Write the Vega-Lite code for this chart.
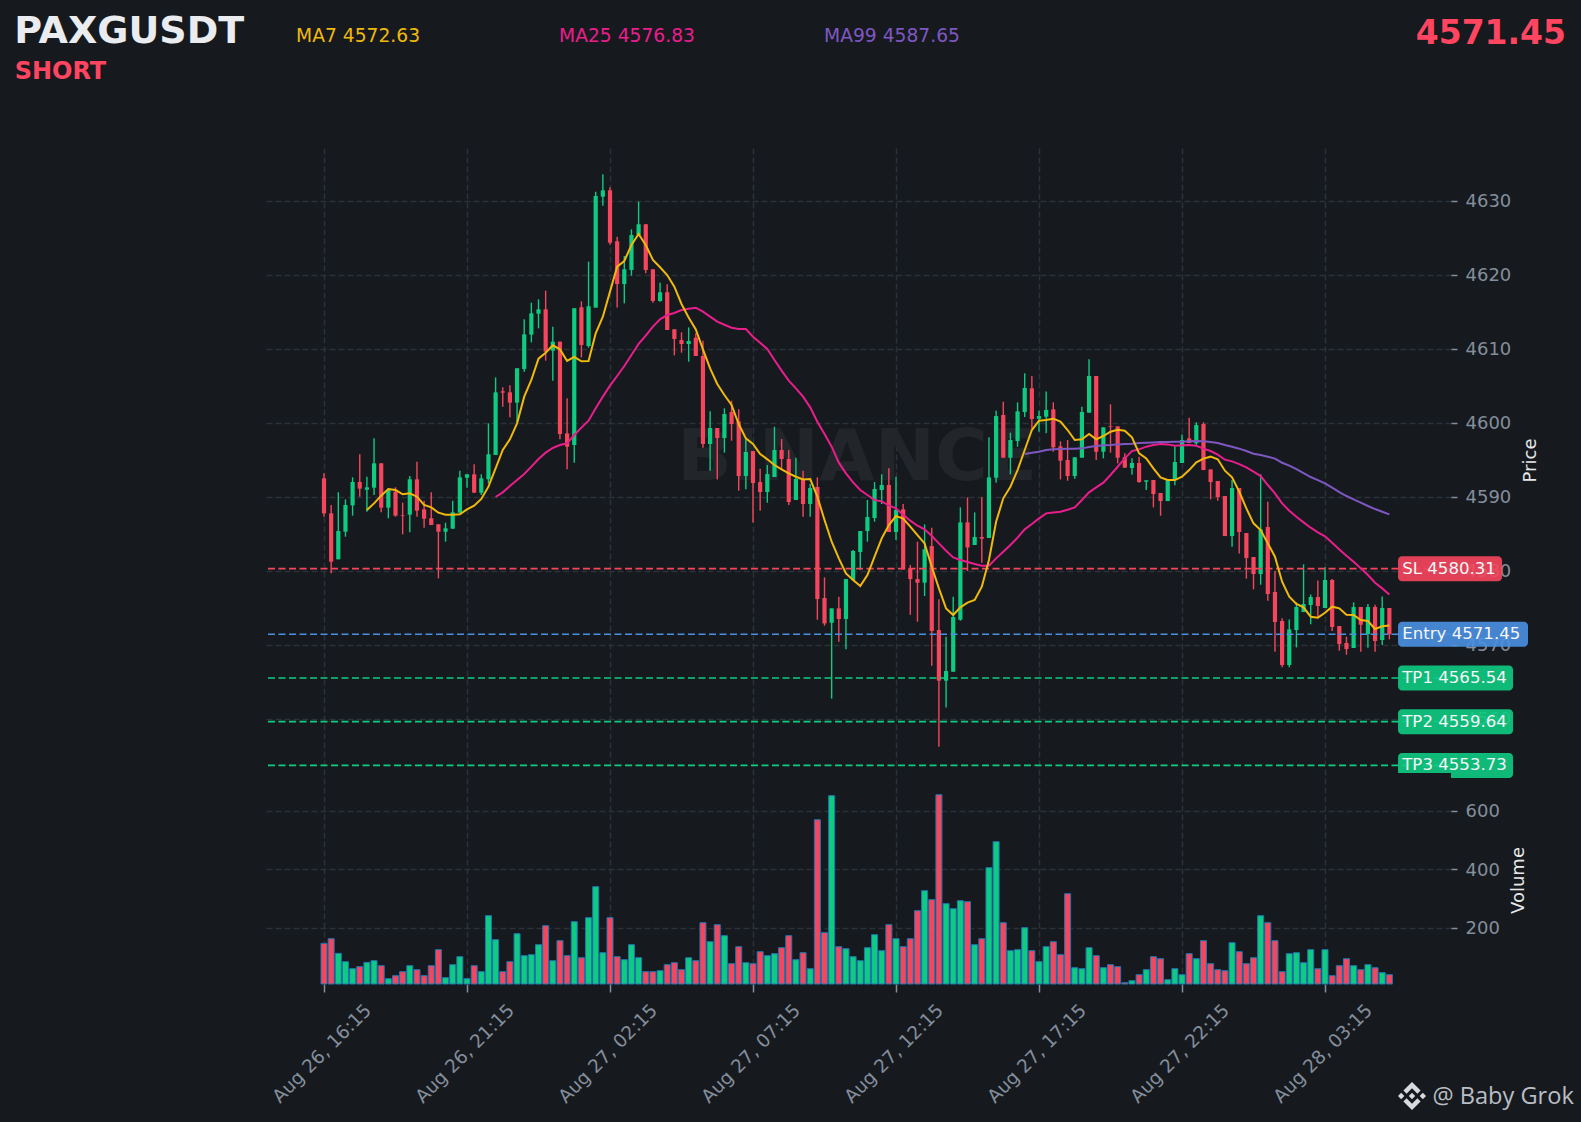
{
  "$schema": "https://vega.github.io/schema/vega-lite/v6.json",
  "autosize": {"type": "none"},
  "padding": {"left": 266, "top": 148, "right": 130, "bottom": 138},
  "width": 1185,
  "height": 836,
  "background": "#161a1e",
  "config": {"view": {"stroke": null}, "font": "DejaVu Sans"},
  "data": {"name": "candles"},
  "datasets": {
    "levels": [
      {"kind": "SL", "price": 4580.31, "label": "SL 4580.31"},
      {"kind": "Entry", "price": 4571.45, "label": "Entry 4571.45"},
      {"kind": "TP", "price": 4565.54, "label": "TP1 4565.54"},
      {"kind": "TP", "price": 4559.64, "label": "TP2 4559.64"},
      {"kind": "TP", "price": 4553.73, "label": "TP3 4553.73"}
    ],
    "candles": [
      {"t":"2026-08-26T16:15","o":4592.52,"c":4587.79,"h":4593.20,"l":4587.34,"v":146.4},
      {"t":"2026-08-26T16:30","o":4587.79,"c":4581.26,"h":4588.92,"l":4579.68,"v":162.4},
      {"t":"2026-08-26T16:45","o":4581.58,"c":4585.40,"h":4590.63,"l":4581.58,"v":112.3},
      {"t":"2026-08-26T17:00","o":4585.31,"c":4588.92,"h":4589.68,"l":4584.64,"v":83.8},
      {"t":"2026-08-26T17:15","o":4588.87,"c":4592.03,"h":4592.66,"l":4587.48,"v":59.8},
      {"t":"2026-08-26T17:30","o":4592.03,"c":4591.13,"h":4595.77,"l":4590.04,"v":66.7},
      {"t":"2026-08-26T17:45","o":4590.99,"c":4591.31,"h":4592.75,"l":4588.02,"v":81.5,"ma7":4588.24},
      {"t":"2026-08-26T18:00","o":4591.26,"c":4594.55,"h":4597.93,"l":4590.27,"v":87.2,"ma7":4589.14},
      {"t":"2026-08-26T18:15","o":4594.55,"c":4588.56,"h":4594.55,"l":4587.93,"v":70.1,"ma7":4590.18},
      {"t":"2026-08-26T18:30","o":4588.56,"c":4590.95,"h":4591.17,"l":4587.12,"v":25.6,"ma7":4591.08},
      {"t":"2026-08-26T18:45","o":4590.72,"c":4587.48,"h":4591.31,"l":4587.34,"v":35.9,"ma7":4590.95},
      {"t":"2026-08-26T19:00","o":4587.57,"c":4587.48,"h":4589.23,"l":4584.95,"v":49.6,"ma7":4590.36},
      {"t":"2026-08-26T19:15","o":4587.61,"c":4592.39,"h":4592.84,"l":4585.22,"v":70.1,"ma7":4590.49},
      {"t":"2026-08-26T19:30","o":4592.39,"c":4588.15,"h":4594.77,"l":4587.34,"v":56.4,"ma7":4590.04},
      {"t":"2026-08-26T19:45","o":4588.33,"c":4587.07,"h":4589.50,"l":4585.85,"v":35.9,"ma7":4588.92},
      {"t":"2026-08-26T20:00","o":4587.12,"c":4586.22,"h":4590.63,"l":4586.22,"v":70.1,"ma7":4588.60},
      {"t":"2026-08-26T20:15","o":4586.31,"c":4585.31,"h":4586.31,"l":4579.01,"v":124.8,"ma7":4587.88},
      {"t":"2026-08-26T20:30","o":4585.31,"c":4585.77,"h":4586.53,"l":4583.96,"v":29.1,"ma7":4587.61},
      {"t":"2026-08-26T20:45","o":4585.72,"c":4587.93,"h":4589.50,"l":4585.72,"v":73.5,"ma7":4587.61},
      {"t":"2026-08-26T21:00","o":4587.88,"c":4592.66,"h":4593.56,"l":4587.79,"v":100.9,"ma7":4587.66},
      {"t":"2026-08-26T21:15","o":4592.61,"c":4593.06,"h":4593.06,"l":4591.26,"v":25.6,"ma7":4588.33},
      {"t":"2026-08-26T21:30","o":4593.06,"c":4590.58,"h":4594.41,"l":4590.58,"v":70.1,"ma7":4588.83},
      {"t":"2026-08-26T21:45","o":4590.58,"c":4592.52,"h":4593.06,"l":4590.27,"v":49.6,"ma7":4589.73},
      {"t":"2026-08-26T22:00","o":4592.39,"c":4595.77,"h":4599.95,"l":4591.85,"v":241.0,"ma7":4591.40},
      {"t":"2026-08-26T22:15","o":4595.68,"c":4604.14,"h":4606.17,"l":4595.68,"v":159.0,"ma7":4593.87,"ma25":4590.00},
      {"t":"2026-08-26T22:30","o":4604.28,"c":4604.10,"h":4604.82,"l":4602.21,"v":49.6,"ma7":4596.35,"ma25":4590.63},
      {"t":"2026-08-26T22:45","o":4604.14,"c":4602.75,"h":4605.09,"l":4600.77,"v":83.8,"ma7":4597.79,"ma25":4591.49},
      {"t":"2026-08-26T23:00","o":4602.75,"c":4607.39,"h":4607.39,"l":4599.95,"v":179.5,"ma7":4599.95,"ma25":4592.30},
      {"t":"2026-08-26T23:15","o":4607.30,"c":4611.98,"h":4614.01,"l":4606.94,"v":104.3,"ma7":4603.56,"ma25":4593.11},
      {"t":"2026-08-26T23:30","o":4611.94,"c":4614.82,"h":4616.26,"l":4610.90,"v":107.7,"ma7":4605.81,"ma25":4594.10},
      {"t":"2026-08-26T23:45","o":4614.77,"c":4615.36,"h":4616.71,"l":4612.79,"v":141.9,"ma7":4608.69,"ma25":4595.13},
      {"t":"2026-08-27T00:00","o":4615.36,"c":4609.64,"h":4617.88,"l":4608.42,"v":206.8,"ma7":4609.50,"ma25":4595.99},
      {"t":"2026-08-27T00:15","o":4609.77,"c":4610.99,"h":4613.02,"l":4605.72,"v":87.2,"ma7":4610.49,"ma25":4596.62},
      {"t":"2026-08-27T00:30","o":4610.99,"c":4598.51,"h":4610.99,"l":4597.79,"v":155.6,"ma7":4609.95,"ma25":4597.03},
      {"t":"2026-08-27T00:45","o":4598.60,"c":4596.80,"h":4603.33,"l":4593.74,"v":104.3,"ma7":4608.38,"ma25":4597.25},
      {"t":"2026-08-27T01:00","o":4597.03,"c":4615.49,"h":4615.49,"l":4594.64,"v":220.5,"ma7":4608.92,"ma25":4598.38},
      {"t":"2026-08-27T01:15","o":4615.63,"c":4610.54,"h":4616.44,"l":4608.87,"v":97.4,"ma7":4608.33,"ma25":4599.37},
      {"t":"2026-08-27T01:30","o":4610.40,"c":4615.77,"h":4621.80,"l":4610.18,"v":234.2,"ma7":4608.38,"ma25":4600.31},
      {"t":"2026-08-27T01:45","o":4615.59,"c":4630.68,"h":4631.26,"l":4615.59,"v":340.2,"ma7":4612.12,"ma25":4601.98},
      {"t":"2026-08-27T02:00","o":4630.58,"c":4631.44,"h":4633.60,"l":4629.37,"v":114.5,"ma7":4614.37,"ma25":4603.56},
      {"t":"2026-08-27T02:15","o":4631.44,"c":4624.37,"h":4631.85,"l":4624.10,"v":234.2,"ma7":4617.75,"ma25":4605.04},
      {"t":"2026-08-27T02:30","o":4624.55,"c":4618.78,"h":4625.18,"l":4615.59,"v":100.9,"ma7":4621.13,"ma25":4606.35},
      {"t":"2026-08-27T02:45","o":4618.78,"c":4620.77,"h":4622.57,"l":4616.17,"v":90.6,"ma7":4621.89,"ma25":4607.70},
      {"t":"2026-08-27T03:00","o":4620.68,"c":4625.40,"h":4626.17,"l":4619.91,"v":141.9,"ma7":4624.05,"ma25":4609.19},
      {"t":"2026-08-27T03:15","o":4625.40,"c":4626.85,"h":4629.91,"l":4625.40,"v":97.4,"ma7":4625.54,"ma25":4610.68},
      {"t":"2026-08-27T03:30","o":4626.85,"c":4620.68,"h":4626.85,"l":4620.22,"v":49.6,"ma7":4624.05,"ma25":4611.80},
      {"t":"2026-08-27T03:45","o":4620.77,"c":4616.49,"h":4620.77,"l":4616.26,"v":49.6,"ma7":4622.03,"ma25":4613.02},
      {"t":"2026-08-27T04:00","o":4616.49,"c":4617.66,"h":4618.96,"l":4616.40,"v":53.0,"ma7":4621.04,"ma25":4614.01},
      {"t":"2026-08-27T04:15","o":4617.66,"c":4612.57,"h":4618.74,"l":4612.57,"v":73.5,"ma7":4620.00,"ma25":4614.59},
      {"t":"2026-08-27T04:30","o":4612.66,"c":4611.35,"h":4612.66,"l":4609.14,"v":80.3,"ma7":4618.42,"ma25":4614.86},
      {"t":"2026-08-27T04:45","o":4611.21,"c":4610.67,"h":4612.25,"l":4609.50,"v":56.4,"ma7":4616.08,"ma25":4615.27},
      {"t":"2026-08-27T05:00","o":4610.67,"c":4611.08,"h":4612.92,"l":4608.28,"v":97.4,"ma7":4614.27,"ma25":4615.45},
      {"t":"2026-08-27T05:15","o":4611.53,"c":4609.05,"h":4612.11,"l":4609.05,"v":87.2,"ma7":4612.65,"ma25":4615.58},
      {"t":"2026-08-27T05:30","o":4609.05,"c":4597.16,"h":4611.12,"l":4596.66,"v":217.1,"ma7":4609.95,"ma25":4615.04},
      {"t":"2026-08-27T05:45","o":4597.16,"c":4599.32,"h":4601.57,"l":4593.55,"v":152.1,"ma7":4607.38,"ma25":4614.37},
      {"t":"2026-08-27T06:00","o":4599.32,"c":4597.97,"h":4599.32,"l":4592.38,"v":210.3,"ma7":4605.27,"ma25":4613.69},
      {"t":"2026-08-27T06:15","o":4597.97,"c":4601.21,"h":4601.98,"l":4595.99,"v":172.7,"ma7":4603.78,"ma25":4613.28},
      {"t":"2026-08-27T06:30","o":4601.48,"c":4599.86,"h":4603.01,"l":4597.61,"v":76.9,"ma7":4602.43,"ma25":4612.88},
      {"t":"2026-08-27T06:45","o":4600.22,"c":4592.83,"h":4601.84,"l":4590.85,"v":135.0,"ma7":4599.86,"ma25":4612.70},
      {"t":"2026-08-27T07:00","o":4592.83,"c":4596.08,"h":4597.92,"l":4591.03,"v":80.3,"ma7":4597.92,"ma25":4612.70},
      {"t":"2026-08-27T07:15","o":4596.21,"c":4591.89,"h":4596.21,"l":4586.57,"v":76.9,"ma7":4597.16,"ma25":4611.66},
      {"t":"2026-08-27T07:30","o":4592.02,"c":4590.67,"h":4593.82,"l":4588.15,"v":117.9,"ma7":4595.81,"ma25":4610.85},
      {"t":"2026-08-27T07:45","o":4590.67,"c":4593.10,"h":4594.32,"l":4589.23,"v":104.3,"ma7":4595.09,"ma25":4610.00},
      {"t":"2026-08-27T08:00","o":4592.70,"c":4596.35,"h":4599.50,"l":4592.70,"v":111.1,"ma7":4594.32,"ma25":4608.51},
      {"t":"2026-08-27T08:15","o":4596.35,"c":4595.13,"h":4597.83,"l":4593.78,"v":131.6,"ma7":4593.73,"ma25":4607.07},
      {"t":"2026-08-27T08:30","o":4595.13,"c":4589.32,"h":4596.35,"l":4588.91,"v":172.7,"ma7":4593.19,"ma25":4605.72},
      {"t":"2026-08-27T08:45","o":4589.59,"c":4592.43,"h":4595.31,"l":4589.59,"v":90.6,"ma7":4592.74,"ma25":4604.68},
      {"t":"2026-08-27T09:00","o":4592.29,"c":4589.05,"h":4593.55,"l":4587.34,"v":114.5,"ma7":4592.38,"ma25":4603.55},
      {"t":"2026-08-27T09:15","o":4589.05,"c":4591.21,"h":4591.75,"l":4587.34,"v":59.8,"ma7":4592.43,"ma25":4602.11},
      {"t":"2026-08-27T09:30","o":4591.35,"c":4576.21,"h":4592.65,"l":4573.42,"v":569.2,"ma7":4590.04,"ma25":4600.18},
      {"t":"2026-08-27T09:45","o":4576.35,"c":4572.92,"h":4579.14,"l":4572.61,"v":182.9,"ma7":4586.89,"ma25":4598.51},
      {"t":"2026-08-27T10:00","o":4573.01,"c":4574.95,"h":4574.95,"l":4562.74,"v":651.3,"ma7":4583.96,"ma25":4596.80},
      {"t":"2026-08-27T10:15","o":4574.95,"c":4573.51,"h":4576.53,"l":4570.45,"v":135.0,"ma7":4581.71,"ma25":4594.64},
      {"t":"2026-08-27T10:30","o":4573.51,"c":4578.91,"h":4578.91,"l":4569.41,"v":128.2,"ma7":4579.68,"ma25":4593.19},
      {"t":"2026-08-27T10:45","o":4578.78,"c":4582.70,"h":4582.83,"l":4578.78,"v":100.9,"ma7":4578.78,"ma25":4591.98},
      {"t":"2026-08-27T11:00","o":4582.56,"c":4585.40,"h":4585.40,"l":4580.13,"v":87.2,"ma7":4577.97,"ma25":4590.94},
      {"t":"2026-08-27T11:15","o":4585.40,"c":4587.29,"h":4589.59,"l":4583.96,"v":131.6,"ma7":4579.45,"ma25":4590.27},
      {"t":"2026-08-27T11:30","o":4587.16,"c":4591.08,"h":4592.02,"l":4586.66,"v":176.1,"ma7":4581.93,"ma25":4589.59},
      {"t":"2026-08-27T11:45","o":4590.94,"c":4591.62,"h":4593.06,"l":4589.05,"v":121.4,"ma7":4584.41,"ma25":4589.41},
      {"t":"2026-08-27T12:00","o":4591.62,"c":4585.27,"h":4593.87,"l":4585.27,"v":210.3,"ma7":4586.21,"ma25":4588.87},
      {"t":"2026-08-27T12:15","o":4585.27,"c":4588.24,"h":4592.74,"l":4584.18,"v":162.4,"ma7":4587.43,"ma25":4588.46},
      {"t":"2026-08-27T12:30","o":4588.33,"c":4580.22,"h":4589.05,"l":4580.22,"v":135.0,"ma7":4587.07,"ma25":4587.61},
      {"t":"2026-08-27T12:45","o":4580.31,"c":4578.91,"h":4580.81,"l":4574.09,"v":162.4,"ma7":4585.99,"ma25":4586.80},
      {"t":"2026-08-27T13:00","o":4578.91,"c":4578.42,"h":4583.96,"l":4573.15,"v":258.1,"ma7":4584.86,"ma25":4586.12},
      {"t":"2026-08-27T13:15","o":4578.42,"c":4582.92,"h":4586.30,"l":4576.62,"v":326.5,"ma7":4583.73,"ma25":4585.63},
      {"t":"2026-08-27T13:30","o":4583.37,"c":4571.89,"h":4585.85,"l":4567.20,"v":295.7,"ma7":4580.58,"ma25":4584.73},
      {"t":"2026-08-27T13:45","o":4572.02,"c":4565.18,"h":4576.17,"l":4556.26,"v":654.7,"ma7":4577.65,"ma25":4583.73},
      {"t":"2026-08-27T14:00","o":4565.18,"c":4566.48,"h":4571.12,"l":4561.57,"v":282.1,"ma7":4574.95,"ma25":4582.74},
      {"t":"2026-08-27T14:15","o":4566.39,"c":4573.78,"h":4576.53,"l":4566.39,"v":265.0,"ma7":4574.05,"ma25":4581.84},
      {"t":"2026-08-27T14:30","o":4573.42,"c":4586.57,"h":4588.60,"l":4573.28,"v":292.3,"ma7":4575.09,"ma25":4581.48},
      {"t":"2026-08-27T14:45","o":4586.57,"c":4583.19,"h":4589.95,"l":4580.00,"v":288.9,"ma7":4575.72,"ma25":4581.21},
      {"t":"2026-08-27T15:00","o":4583.51,"c":4584.59,"h":4587.92,"l":4583.51,"v":141.9,"ma7":4576.08,"ma25":4580.94},
      {"t":"2026-08-27T15:15","o":4584.59,"c":4584.37,"h":4589.95,"l":4581.12,"v":162.4,"ma7":4577.88,"ma25":4580.72},
      {"t":"2026-08-27T15:30","o":4584.46,"c":4592.65,"h":4598.06,"l":4584.46,"v":405.1,"ma7":4581.48,"ma25":4580.72},
      {"t":"2026-08-27T15:45","o":4592.61,"c":4600.94,"h":4601.66,"l":4591.93,"v":494.0,"ma7":4586.66,"ma25":4581.71},
      {"t":"2026-08-27T16:00","o":4601.08,"c":4595.31,"h":4602.88,"l":4595.31,"v":217.1,"ma7":4589.82,"ma25":4582.61},
      {"t":"2026-08-27T16:15","o":4595.31,"c":4597.70,"h":4598.69,"l":4593.06,"v":121.4,"ma7":4591.39,"ma25":4583.51},
      {"t":"2026-08-27T16:30","o":4597.56,"c":4601.57,"h":4602.79,"l":4596.80,"v":124.8,"ma7":4593.64,"ma25":4584.50},
      {"t":"2026-08-27T16:45","o":4601.48,"c":4604.73,"h":4606.71,"l":4600.81,"v":200.0,"ma7":4596.35,"ma25":4585.63,"ma99":4595.81},
      {"t":"2026-08-27T17:00","o":4604.68,"c":4600.54,"h":4606.35,"l":4599.27,"v":121.4,"ma7":4599.05,"ma25":4586.35,"ma99":4595.99},
      {"t":"2026-08-27T17:15","o":4600.58,"c":4600.94,"h":4601.66,"l":4598.82,"v":83.8,"ma7":4600.31,"ma25":4587.11,"ma99":4596.12},
      {"t":"2026-08-27T17:30","o":4600.85,"c":4601.75,"h":4604.27,"l":4598.60,"v":135.0,"ma7":4600.40,"ma25":4587.79,"ma99":4596.35},
      {"t":"2026-08-27T17:45","o":4601.84,"c":4596.71,"h":4602.79,"l":4596.12,"v":152.1,"ma7":4600.58,"ma25":4587.92,"ma99":4596.44},
      {"t":"2026-08-27T18:00","o":4596.84,"c":4594.91,"h":4597.52,"l":4592.38,"v":107.7,"ma7":4600.18,"ma25":4588.01,"ma99":4596.48},
      {"t":"2026-08-27T18:15","o":4595.00,"c":4592.83,"h":4597.70,"l":4592.20,"v":316.2,"ma7":4599.05,"ma25":4588.28,"ma99":4596.53},
      {"t":"2026-08-27T18:30","o":4592.83,"c":4595.36,"h":4595.36,"l":4592.47,"v":63.2,"ma7":4597.70,"ma25":4588.60,"ma99":4596.53},
      {"t":"2026-08-27T18:45","o":4595.31,"c":4601.48,"h":4602.20,"l":4595.31,"v":59.8,"ma7":4597.79,"ma25":4589.59,"ma99":4596.57},
      {"t":"2026-08-27T19:00","o":4601.39,"c":4606.35,"h":4608.60,"l":4601.39,"v":131.6,"ma7":4598.51,"ma25":4590.63,"ma99":4596.75},
      {"t":"2026-08-27T19:15","o":4606.35,"c":4596.12,"h":4606.35,"l":4595.00,"v":104.3,"ma7":4597.79,"ma25":4591.30,"ma99":4596.89},
      {"t":"2026-08-27T19:30","o":4596.12,"c":4599.41,"h":4599.41,"l":4595.22,"v":63.2,"ma7":4598.24,"ma25":4591.93,"ma99":4596.98},
      {"t":"2026-08-27T19:45","o":4599.54,"c":4599.45,"h":4602.52,"l":4595.99,"v":73.5,"ma7":4598.82,"ma25":4592.97,"ma99":4597.02},
      {"t":"2026-08-27T20:00","o":4599.54,"c":4595.31,"h":4599.54,"l":4594.54,"v":66.7,"ma7":4599.09,"ma25":4594.09,"ma99":4597.11},
      {"t":"2026-08-27T20:15","o":4595.40,"c":4593.96,"h":4595.90,"l":4593.96,"v":12.0,"ma7":4598.96,"ma25":4595.22,"ma99":4597.16},
      {"t":"2026-08-27T20:30","o":4593.91,"c":4594.59,"h":4595.22,"l":4593.01,"v":18.8,"ma7":4598.06,"ma25":4596.21,"ma99":4597.20},
      {"t":"2026-08-27T20:45","o":4594.59,"c":4592.02,"h":4595.45,"l":4591.93,"v":39.3,"ma7":4595.90,"ma25":4596.44,"ma99":4597.29},
      {"t":"2026-08-27T21:00","o":4592.07,"c":4592.25,"h":4592.25,"l":4590.94,"v":56.4,"ma7":4595.22,"ma25":4596.80,"ma99":4597.34},
      {"t":"2026-08-27T21:15","o":4592.29,"c":4590.40,"h":4592.29,"l":4588.60,"v":100.9,"ma7":4593.87,"ma25":4597.02,"ma99":4597.38},
      {"t":"2026-08-27T21:30","o":4590.54,"c":4589.45,"h":4590.54,"l":4587.47,"v":94.0,"ma7":4592.65,"ma25":4597.16,"ma99":4597.43},
      {"t":"2026-08-27T21:45","o":4589.45,"c":4592.29,"h":4592.29,"l":4589.45,"v":22.2,"ma7":4592.29,"ma25":4597.11,"ma99":4597.43},
      {"t":"2026-08-27T22:00","o":4592.29,"c":4594.72,"h":4596.80,"l":4591.57,"v":59.8,"ma7":4592.29,"ma25":4596.93,"ma99":4597.47},
      {"t":"2026-08-27T22:15","o":4594.59,"c":4597.70,"h":4598.46,"l":4594.59,"v":39.3,"ma7":4592.74,"ma25":4596.98,"ma99":4597.47},
      {"t":"2026-08-27T22:30","o":4597.92,"c":4597.29,"h":4600.72,"l":4597.29,"v":111.1,"ma7":4593.64,"ma25":4597.02,"ma99":4597.52},
      {"t":"2026-08-27T22:45","o":4597.25,"c":4599.72,"h":4600.09,"l":4596.93,"v":94.0,"ma7":4594.68,"ma25":4596.93,"ma99":4597.56},
      {"t":"2026-08-27T23:00","o":4599.86,"c":4593.64,"h":4600.09,"l":4593.64,"v":155.6,"ma7":4595.18,"ma25":4596.53,"ma99":4597.52},
      {"t":"2026-08-27T23:15","o":4593.73,"c":4592.02,"h":4593.73,"l":4589.68,"v":76.9,"ma7":4595.45,"ma25":4596.21,"ma99":4597.43},
      {"t":"2026-08-27T23:30","o":4592.16,"c":4589.99,"h":4592.16,"l":4589.50,"v":56.4,"ma7":4595.09,"ma25":4595.72,"ma99":4597.29},
      {"t":"2026-08-27T23:45","o":4590.13,"c":4584.72,"h":4590.13,"l":4584.72,"v":53.0,"ma7":4593.55,"ma25":4595.04,"ma99":4597.02},
      {"t":"2026-08-28T00:00","o":4584.72,"c":4591.21,"h":4592.29,"l":4583.28,"v":148.7,"ma7":4592.65,"ma25":4594.81,"ma99":4596.80},
      {"t":"2026-08-28T00:15","o":4591.21,"c":4585.27,"h":4591.21,"l":4582.38,"v":117.9,"ma7":4590.72,"ma25":4594.45,"ma99":4596.53},
      {"t":"2026-08-28T00:30","o":4585.13,"c":4581.75,"h":4585.13,"l":4578.96,"v":76.9,"ma7":4588.46,"ma25":4594.00,"ma99":4596.21},
      {"t":"2026-08-28T00:45","o":4581.89,"c":4579.59,"h":4581.89,"l":4577.52,"v":97.4,"ma7":4586.44,"ma25":4593.42,"ma99":4595.85},
      {"t":"2026-08-28T01:00","o":4579.59,"c":4585.63,"h":4593.06,"l":4578.15,"v":241.0,"ma7":4585.54,"ma25":4592.83,"ma99":4595.67},
      {"t":"2026-08-28T01:15","o":4585.94,"c":4576.89,"h":4589.36,"l":4575.99,"v":217.1,"ma7":4583.73,"ma25":4591.62,"ma99":4595.45},
      {"t":"2026-08-28T01:30","o":4577.16,"c":4573.10,"h":4580.00,"l":4569.09,"v":155.6,"ma7":4581.93,"ma25":4590.49,"ma99":4595.18},
      {"t":"2026-08-28T01:45","o":4573.24,"c":4567.29,"h":4573.60,"l":4566.98,"v":49.6,"ma7":4578.55,"ma25":4589.14,"ma99":4594.63},
      {"t":"2026-08-28T02:00","o":4567.29,"c":4572.11,"h":4573.46,"l":4566.98,"v":111.1,"ma7":4576.53,"ma25":4588.15,"ma99":4594.23},
      {"t":"2026-08-28T02:15","o":4572.02,"c":4575.13,"h":4575.76,"l":4569.68,"v":114.5,"ma7":4575.54,"ma25":4587.34,"ma99":4593.78},
      {"t":"2026-08-28T02:30","o":4574.45,"c":4575.54,"h":4580.90,"l":4574.45,"v":80.3,"ma7":4575.09,"ma25":4586.57,"ma99":4593.24},
      {"t":"2026-08-28T02:45","o":4575.40,"c":4576.48,"h":4576.84,"l":4572.79,"v":124.8,"ma7":4573.82,"ma25":4585.85,"ma99":4592.70},
      {"t":"2026-08-28T03:00","o":4576.48,"c":4575.27,"h":4578.73,"l":4573.78,"v":59.8,"ma7":4573.69,"ma25":4585.22,"ma99":4592.29},
      {"t":"2026-08-28T03:15","o":4575.00,"c":4578.78,"h":4580.49,"l":4575.00,"v":124.8,"ma7":4574.36,"ma25":4584.68,"ma99":4591.84},
      {"t":"2026-08-28T03:30","o":4578.78,"c":4572.43,"h":4578.91,"l":4571.89,"v":35.9,"ma7":4575.18,"ma25":4583.82,"ma99":4591.26},
      {"t":"2026-08-28T03:45","o":4572.56,"c":4570.13,"h":4572.56,"l":4569.23,"v":70.1,"ma7":4574.95,"ma25":4582.92,"ma99":4590.67},
      {"t":"2026-08-28T04:00","o":4570.27,"c":4569.45,"h":4571.12,"l":4568.69,"v":94.0,"ma7":4574.09,"ma25":4582.07,"ma99":4590.13},
      {"t":"2026-08-28T04:15","o":4569.59,"c":4575.13,"h":4575.76,"l":4569.59,"v":70.1,"ma7":4574.05,"ma25":4581.26,"ma99":4589.68},
      {"t":"2026-08-28T04:30","o":4575.13,"c":4572.74,"h":4575.13,"l":4569.09,"v":56.4,"ma7":4573.37,"ma25":4580.36,"ma99":4589.23},
      {"t":"2026-08-28T04:45","o":4571.48,"c":4575.13,"h":4575.54,"l":4569.63,"v":73.5,"ma7":4573.24,"ma25":4579.45,"ma99":4588.78},
      {"t":"2026-08-28T05:00","o":4575.13,"c":4570.54,"h":4575.45,"l":4569.09,"v":63.2,"ma7":4572.16,"ma25":4578.42,"ma99":4588.37},
      {"t":"2026-08-28T05:15","o":4570.67,"c":4575.00,"h":4576.57,"l":4570.00,"v":46.2,"ma7":4572.52,"ma25":4577.65,"ma99":4588.01},
      {"t":"2026-08-28T05:30","o":4575.00,"c":4571.45,"h":4575.00,"l":4570.76,"v":39.3,"ma7":4572.63,"ma25":4576.83,"ma99":4587.65}
    ]
  },
  "layer": [
    {
      "layer": [
        {
          "mark": {"type": "rule", "opacity": 0},
          "encoding": {
            "x": {
              "field": "t",
              "type": "temporal",
              "title": null,
              "scale": {
                "padding": 0,
                "domain": [
                  {"year": 2026, "month": 8, "date": 26, "hours": 14, "minutes": 13, "seconds": 19},
                  {"year": 2026, "month": 8, "date": 28, "hours": 7, "minutes": 39, "seconds": 18}
                ]
              },
              "axis": {
                "values": [
                  {"year": 2026, "month": 8, "date": 26, "hours": 16, "minutes": 15},
                  {"year": 2026, "month": 8, "date": 26, "hours": 21, "minutes": 15},
                  {"year": 2026, "month": 8, "date": 27, "hours": 2, "minutes": 15},
                  {"year": 2026, "month": 8, "date": 27, "hours": 7, "minutes": 15},
                  {"year": 2026, "month": 8, "date": 27, "hours": 12, "minutes": 15},
                  {"year": 2026, "month": 8, "date": 27, "hours": 17, "minutes": 15},
                  {"year": 2026, "month": 8, "date": 27, "hours": 22, "minutes": 15},
                  {"year": 2026, "month": 8, "date": 28, "hours": 3, "minutes": 15}
                ],
                "format": "%b %d, %H:%M",
                "grid": true,
                "gridColor": "#2b3139",
                "gridDash": [6, 3],
                "gridWidth": 1.5,
                "domain": false,
                "tickColor": "#848e9c",
                "tickSize": 8,
                "tickWidth": 1.5,
                "labelColor": "#848e9c",
                "labelFontSize": 18.5,
                "labelAngle": -45,
                "labelAlign": "center",
                "labelBaseline": "middle",
                "labelPadding": 61,
                "labelOffset": -2.5,
                "labelOverlap": false,
                "labelBound": false,
                "labelFlush": false
              }
            },
            "y": {
              "field": "c",
              "type": "quantitative",
              "title": "Price",
              "scale": {"domain": [4524.19, 4637.16], "zero": false, "nice": false},
              "axis": {
                "orient": "right",
                "values": [4560, 4570, 4580, 4590, 4600, 4610, 4620, 4630],
                "format": "d",
                "grid": true,
                "gridColor": "#2b3139",
                "gridDash": [6, 3],
                "gridWidth": 1.5,
                "domain": false,
                "tickColor": "#848e9c",
                "tickSize": 6,
                "tickWidth": 1.5,
                "labelColor": "#848e9c",
                "labelFontSize": 18,
                "labelPadding": 8,
                "labelOffset": 1,
                "labelAlign": "left",
                "labelOverlap": false,
                "labelBound": false,
                "labelFlush": false,
                "titleColor": "#e6e8ea",
                "titleFontSize": 18,
                "titleFontWeight": "normal",
                "titleAngle": 270,
                "titleX": 88,
                "titleY": 312
              }
            }
          }
        },
        {
          "data": {"values": [{"label": "BINANCE"}]},
          "mark": {"type": "text", "font": "DejaVu Sans", "fontWeight": "bold", "fontSize": 72, "align": "center", "baseline": "alphabetic", "color": "#22262b"},
          "encoding": {
            "text": {"field": "label"},
            "x": {"datum": {"year": 2026, "month": 8, "date": 27, "hours": 10, "minutes": 53, "seconds": 12}, "type": "temporal"},
            "y": {"datum": 4592.3, "type": "quantitative"}
          }
        },
        {
          "mark": {"type": "rule", "strokeWidth": 1.4},
          "encoding": {
            "x": {"field": "t", "type": "temporal"},
            "y": {"field": "l", "type": "quantitative"},
            "y2": {"field": "h"},
            "color": {"condition": {"test": "datum.c >= datum.o", "value": "#0ecb81"}, "value": "#f6465d"}
          }
        },
        {
          "mark": {"type": "bar", "width": 4.2},
          "encoding": {
            "x": {"field": "t", "type": "temporal"},
            "y": {"field": "o", "type": "quantitative"},
            "y2": {"field": "c"},
            "color": {"condition": {"test": "datum.c >= datum.o", "value": "#0ecb81"}, "value": "#f6465d"}
          }
        },
        {
          "data": {"name": "levels"},
          "mark": {"type": "rule", "strokeWidth": 1.7, "strokeDash": [7, 3.5]},
          "encoding": {
            "y": {"field": "price", "type": "quantitative"},
            "color": {"field": "kind", "type": "nominal", "legend": null, "scale": {"domain": ["SL", "Entry", "TP"], "range": ["#f6465d", "#4a90e2", "#0ecb81"]}}
          }
        },
        {
          "mark": {"type": "line", "color": "#e91e8c", "strokeWidth": 2},
          "encoding": {"x": {"field": "t", "type": "temporal"}, "y": {"field": "ma25", "type": "quantitative"}}
        },
        {
          "mark": {"type": "line", "color": "#7e57c2", "strokeWidth": 2},
          "encoding": {"x": {"field": "t", "type": "temporal"}, "y": {"field": "ma99", "type": "quantitative"}}
        },
        {
          "mark": {"type": "line", "color": "#f0b90b", "strokeWidth": 2},
          "encoding": {"x": {"field": "t", "type": "temporal"}, "y": {"field": "ma7", "type": "quantitative"}}
        },
        {
          "data": {"name": "levels"},
          "transform": [{"filter": "datum.kind == 'SL'"}],
          "mark": {"type": "rect", "width": 104, "height": 25, "cornerRadius": 4, "opacity": 0.9},
          "encoding": {
            "x": {"datum": {"year": 2026, "month": 8, "date": 28, "hours": 7, "minutes": 37, "seconds": 14}, "type": "temporal"},
            "y": {"field": "price", "type": "quantitative"},
            "color": {"field": "kind", "type": "nominal", "legend": null}
          }
        },
        {
          "data": {"name": "levels"},
          "transform": [{"filter": "datum.kind == 'Entry'"}],
          "mark": {"type": "rect", "width": 130, "height": 25, "cornerRadius": 4, "opacity": 0.9},
          "encoding": {
            "x": {"datum": {"year": 2026, "month": 8, "date": 28, "hours": 8, "minutes": 4, "seconds": 30}, "type": "temporal"},
            "y": {"field": "price", "type": "quantitative"},
            "color": {"field": "kind", "type": "nominal", "legend": null}
          }
        },
        {
          "data": {"name": "levels"},
          "transform": [{"filter": "datum.kind == 'TP'"}],
          "mark": {"type": "rect", "width": 115, "height": 25, "cornerRadius": 4, "opacity": 0.9},
          "encoding": {
            "x": {"datum": {"year": 2026, "month": 8, "date": 28, "hours": 7, "minutes": 48, "seconds": 48}, "type": "temporal"},
            "y": {"field": "price", "type": "quantitative"},
            "color": {"field": "kind", "type": "nominal", "legend": null}
          }
        },
        {
          "data": {"values": [{"panel": "volume"}]},
          "mark": {"type": "rect", "color": "#161a1e"},
          "encoding": {
            "x": {"datum": {"year": 2026, "month": 8, "date": 28, "hours": 5, "minutes": 48, "seconds": 6}, "type": "temporal"},
            "x2": {"datum": {"year": 2026, "month": 8, "date": 28, "hours": 7, "minutes": 39, "seconds": 18}},
            "y": {"datum": 4552.7, "type": "quantitative"},
            "y2": {"datum": 4552.03}
          }
        },
        {
          "data": {"name": "levels"},
          "mark": {"type": "text", "fontSize": 16.6, "align": "left", "baseline": "middle", "color": "#f5f6f7"},
          "encoding": {
            "text": {"field": "label"},
            "x": {"datum": {"year": 2026, "month": 8, "date": 28, "hours": 5, "minutes": 57}, "type": "temporal"},
            "y": {"field": "price", "type": "quantitative"}
          }
        },
        {
          "data": {"values": [{"label": "PAXGUSDT"}]},
          "mark": {"type": "text", "fontWeight": "bold", "fontSize": 38, "align": "left", "baseline": "alphabetic", "color": "#eaecef"},
          "encoding": {
            "text": {"field": "label"},
            "x": {"datum": {"year": 2026, "month": 8, "date": 26, "hours": 5, "minutes": 25}, "type": "temporal"},
            "y": {"datum": 4651.35, "type": "quantitative"}
          }
        },
        {
          "data": {"values": [{"label": "SHORT"}]},
          "mark": {"type": "text", "fontWeight": "bold", "fontSize": 24, "align": "left", "baseline": "alphabetic", "color": "#ff4560"},
          "encoding": {
            "text": {"field": "label"},
            "x": {"datum": {"year": 2026, "month": 8, "date": 26, "hours": 5, "minutes": 26}, "type": "temporal"},
            "y": {"datum": 4646.49, "type": "quantitative"}
          }
        },
        {
          "data": {"values": [{"label": "MA7 4572.63"}]},
          "mark": {"type": "text", "fontSize": 18.7, "align": "left", "baseline": "alphabetic", "color": "#f0b90b"},
          "encoding": {
            "text": {"field": "label"},
            "x": {"datum": {"year": 2026, "month": 8, "date": 26, "hours": 15, "minutes": 16, "seconds": 17}, "type": "temporal"},
            "y": {"datum": 4651.49, "type": "quantitative"}
          }
        },
        {
          "data": {"values": [{"label": "MA25 4576.83"}]},
          "mark": {"type": "text", "fontSize": 18.7, "align": "left", "baseline": "alphabetic", "color": "#e91e8c"},
          "encoding": {
            "text": {"field": "label"},
            "x": {"datum": {"year": 2026, "month": 8, "date": 27, "hours": 0, "minutes": 28}, "type": "temporal"},
            "y": {"datum": 4651.49, "type": "quantitative"}
          }
        },
        {
          "data": {"values": [{"label": "MA99 4587.65"}]},
          "mark": {"type": "text", "fontSize": 18.7, "align": "left", "baseline": "alphabetic", "color": "#7e57c2"},
          "encoding": {
            "text": {"field": "label"},
            "x": {"datum": {"year": 2026, "month": 8, "date": 27, "hours": 9, "minutes": 44}, "type": "temporal"},
            "y": {"datum": 4651.49, "type": "quantitative"}
          }
        },
        {
          "data": {"values": [{"label": "4571.45"}]},
          "mark": {"type": "text", "fontWeight": "bold", "fontSize": 33, "align": "right", "baseline": "alphabetic", "color": "#ff4560"},
          "encoding": {
            "text": {"field": "label"},
            "x": {"datum": {"year": 2026, "month": 8, "date": 28, "hours": 11, "minutes": 40, "seconds": 36}, "type": "temporal"},
            "y": {"datum": 4651.2, "type": "quantitative"}
          }
        },
        {
          "data": {"values": [{"label": "@ Baby Grok"}]},
          "mark": {"type": "text", "font": "Open Sans", "fontSize": 23.6, "align": "right", "baseline": "alphabetic", "color": "#b9bdc4"},
          "encoding": {
            "text": {"field": "label"},
            "x": {"datum": {"year": 2026, "month": 8, "date": 28, "hours": 11, "minutes": 57}, "type": "temporal"},
            "y": {"datum": 4507.97, "type": "quantitative"}
          }
        },
        {
          "data": {"values": [{"label": "logo"}]},
          "mark": {
            "type": "point",
            "filled": true,
            "opacity": 1,
            "size": 784,
            "color": "#d8dade",
            "shape": "M0.385 0.16L0.612 0.387L0 1L-0.614 0.387L-0.387 0.16L0 0.548ZM0 -1L0.613 -0.389L0.386 -0.162L0 -0.548L-0.386 -0.162L-0.613 -0.389ZM0 -0.226L0.226 0L0 0.226L-0.226 0ZM0.772 -0.226L1 0L0.774 0.226L0.547 0ZM-0.772 -0.226L-1 0L-0.774 0.226L-0.547 0Z"
          },
          "encoding": {
            "x": {"datum": {"year": 2026, "month": 8, "date": 28, "hours": 6, "minutes": 17, "seconds": 30}, "type": "temporal"},
            "y": {"datum": 4509.05, "type": "quantitative"}
          }
        }
      ]
    },
    {
      "layer": [
        {
          "mark": {"type": "bar", "width": 6, "stroke": "#1f77b4", "strokeWidth": 1},
          "encoding": {
            "x": {"field": "t", "type": "temporal"},
            "y": {
              "field": "v",
              "type": "quantitative",
              "title": "Volume",
              "scale": {"domain": [7.5, 2865.6], "zero": false, "nice": false},
              "axis": {
                "orient": "right",
                "values": [200, 400, 600],
                "format": "d",
                "grid": true,
                "gridColor": "#2b3139",
                "gridDash": [6, 3],
                "gridWidth": 1.5,
                "domain": false,
                "tickColor": "#848e9c",
                "tickSize": 6,
                "tickWidth": 1.5,
                "labelColor": "#848e9c",
                "labelFontSize": 18,
                "labelPadding": 8,
                "labelOffset": 1,
                "labelAlign": "left",
                "labelOverlap": false,
                "labelBound": false,
                "labelFlush": false,
                "titleColor": "#e6e8ea",
                "titleFontSize": 18,
                "titleFontWeight": "normal",
                "titleAngle": 270,
                "titleX": 76,
                "titleY": 732
              }
            },
            "y2": {"datum": 7.5},
            "color": {"condition": {"test": "datum.c >= datum.o", "value": "#0ecb81"}, "value": "#f6465d"}
          }
        }
      ]
    }
  ],
  "resolve": {"scale": {"y": "independent"}}
}
